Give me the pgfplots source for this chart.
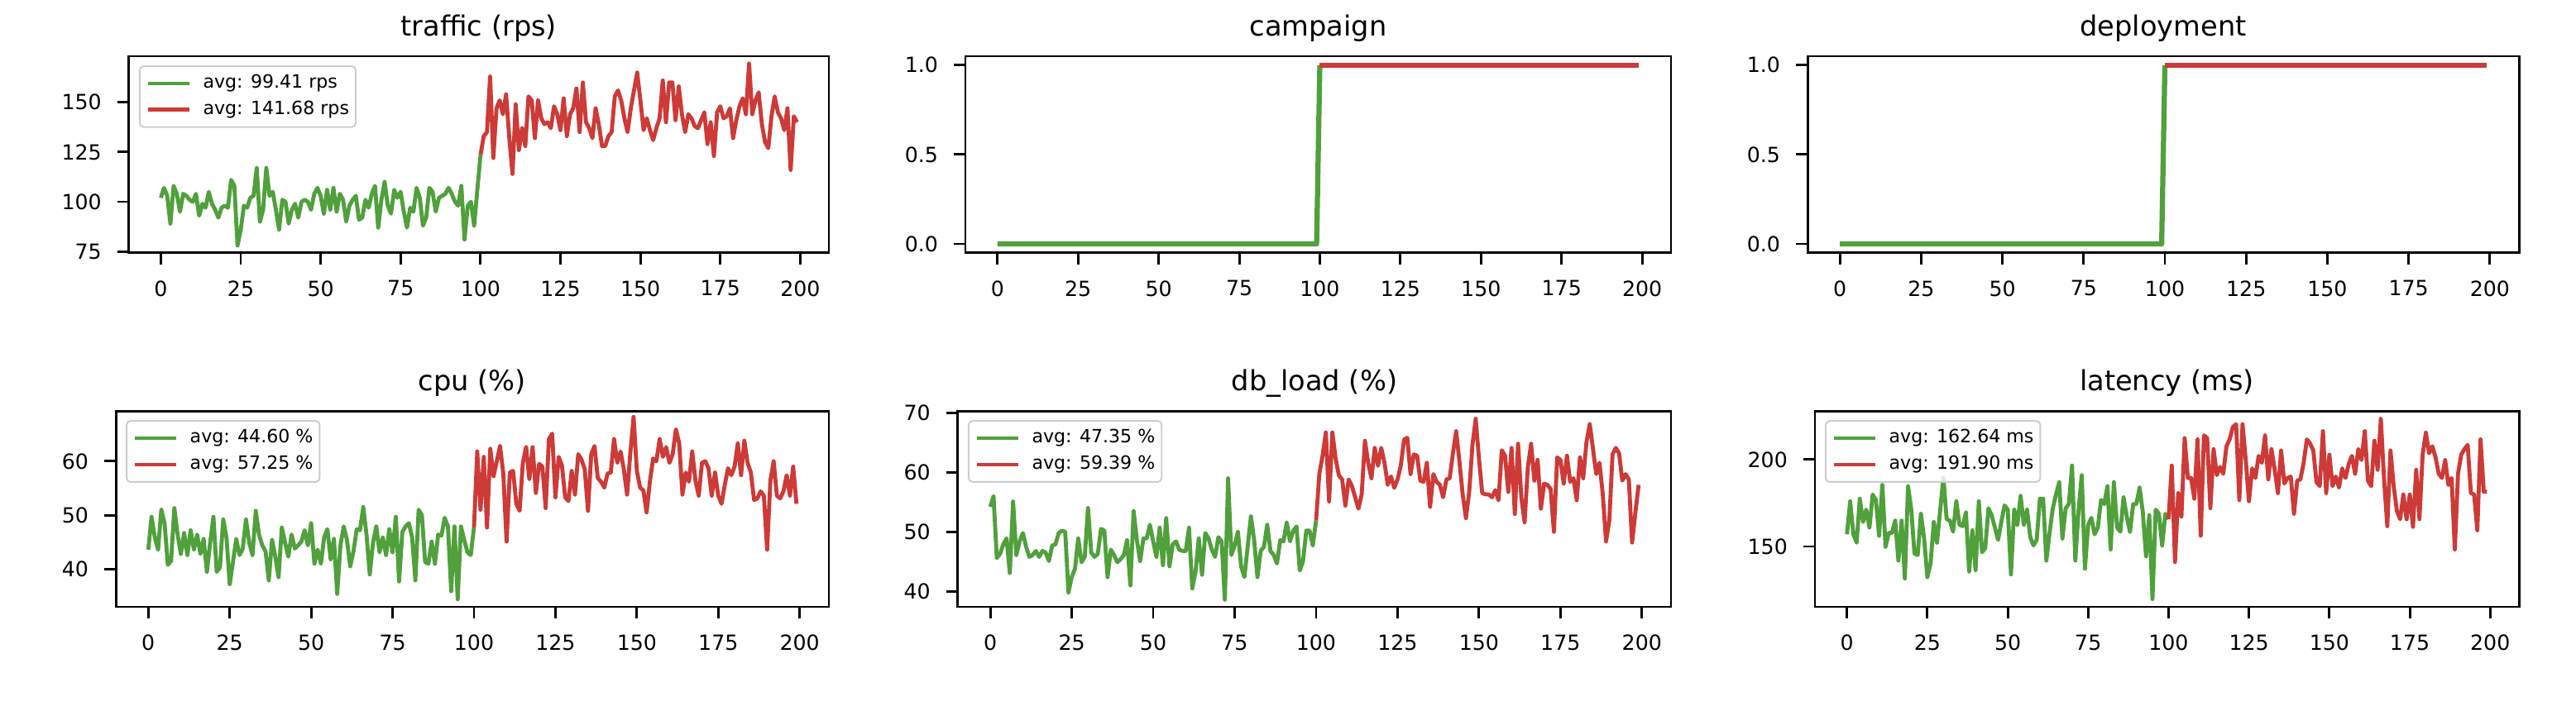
\documentclass[border=0pt]{standalone}
\usepackage{fontspec}
\setmainfont{DejaVu Sans}
\usepackage{pgfplots}
\pgfplotsset{compat=1.18}
\definecolor{cgreen}{RGB}{80,160,60}
\definecolor{cred}{RGB}{205,58,55}
\pgfplotsset{
  panel/.style={
    scale only axis, anchor=south west,
    xmin=-9.95, xmax=208.95,
    xtick={0,25,...,200},
    tick pos=left, tick align=outside,
    major tick length=5.8pt,
    tick style={black, line width=1.2pt},
    axis line style={line width=1.2pt},
    tick label style={font=\fontsize{10.5}{12}\selectfont},
    /pgf/number format/assume math mode=true,
    xticklabel style={anchor=north, inner sep=0pt, yshift=-8pt},
    yticklabel style={anchor=east, inner sep=0pt, xshift=-7.8pt},
    title style={font=\fontsize{14}{16}\selectfont, at={(0.5,1)}, anchor=base, yshift=4.2pt},
    legend style={at={(0,1)}, anchor=north west, xshift=5pt, yshift=-4.6pt,
      draw=black!20, line width=0.8pt, rounded corners=2pt,
      fill=white, fill opacity=0.8, text opacity=1, draw opacity=1,
      font=\fontsize{9.2}{11}\selectfont,
      inner xsep=3.3pt, inner ysep=4.1pt, row sep=4.1pt,
      nodes={inner sep=0pt, text height=7pt, text depth=2.2pt},
      /tikz/every odd column/.append style={column sep=5.8pt}},
    legend cell align=left,
    legend image code/.code={\draw[#1] (0pt,0pt) -- (20.8pt,0pt);},
  },
  gline/.style={cgreen, line width=2pt, line join=round},
  rline/.style={cred, line width=2pt, line join=round},
}
\begin{document}
\begin{tikzpicture}
\path[use as bounding box] (0,0) rectangle (1296pt,357.9pt);

% traffic
\begin{axis}[panel, at={(64.9pt,230.6pt)}, width=352.1pt, height=99pt,
  title={traffic (rps)}, ymin=74.3, ymax=173.2, ytick={75,100,125,150}]
\addplot[gline] coordinates {(0,102)(1,107)(2,103)(3,89)(4,108)(5,104)(6,95)(7,104)(8,103)(9,101)(10,100)(11,104)(12,93)(13,99)(14,97)(15,105)(16,99)(17,96)(18,92)(19,97)(20,98)(21,97)(22,111)(23,108)(24,78)(25,86)(26,98)(27,97)(28,102)(29,103)(30,117)(31,90)(32,96)(33,117)(34,103)(35,105)(36,96)(37,86)(38,101)(39,100)(40,89)(41,96)(42,99)(43,92)(44,100)(45,101)(46,100)(47,96)(48,104)(49,107)(50,103)(51,94)(52,106)(53,96)(54,107)(55,95)(56,104)(57,101)(58,90)(59,98)(60,101)(61,103)(62,91)(63,92)(64,101)(65,97)(66,104)(67,108)(68,87)(69,101)(70,110)(71,98)(72,94)(73,106)(74,102)(75,105)(76,95)(77,87)(78,97)(79,95)(80,107)(81,102)(82,88)(83,92)(84,107)(85,105)(86,95)(87,102)(88,103)(89,104)(90,107)(91,104)(92,100)(93,98)(94,108)(95,81)(96,98)(97,100)(98,88)(99,106)(100,123.5)};
\addlegendentry{avg: 99.41 rps}
\addplot[rline] coordinates {(100,123.5)(101,133)(102,135)(103,163)(104,122)(105,147)(106,151)(107,144)(108,154)(109,132)(110,114)(111,149)(112,126)(113,137)(114,128)(115,153)(116,151)(117,132)(118,151)(119,142)(120,139)(121,140)(122,137)(123,148)(124,144)(125,136)(126,152)(127,133)(128,144)(129,147)(130,157)(131,135)(132,160)(133,140)(134,137)(135,132)(136,147)(137,139)(138,128)(139,128)(140,133)(141,135)(142,153)(143,156)(144,151)(145,142)(146,135)(147,147)(148,156)(149,165)(150,151)(151,136)(152,142)(153,136)(154,131)(155,137)(156,142)(157,161)(158,140)(159,160)(160,160)(161,141)(162,158)(163,144)(164,135)(165,144)(166,142)(167,138)(168,137)(169,141)(170,145)(171,129)(172,140)(173,123)(174,145)(175,148)(176,142)(177,143)(178,147)(179,132)(180,141)(181,148)(182,152)(183,144)(184,169.5)(185,144)(186,151)(187,155)(188,139)(189,130)(190,127)(191,143)(192,153)(193,145)(194,142)(195,136)(196,147)(197,116)(198,143)(199,140)};
\addlegendentry{avg: 141.68 rps}
\end{axis}

% campaign
\begin{axis}[panel, at={(485.7pt,230.6pt)}, width=355pt, height=99pt,
  title={campaign}, ymin=-0.05, ymax=1.05, ytick={0,0.5,1},
  yticklabel style={/pgf/number format/.cd, fixed, fixed zerofill, precision=1}]
\addplot[gline, line width=2.6pt] coordinates {(0,0)(99,0)(100,1)};
\addplot[rline, line width=2.6pt] coordinates {(100,1)(199,1)};
\end{axis}

% deployment
\begin{axis}[panel, at={(909.4pt,230.6pt)}, width=357.9pt, height=99pt,
  title={deployment}, ymin=-0.05, ymax=1.05, ytick={0,0.5,1},
  yticklabel style={/pgf/number format/.cd, fixed, fixed zerofill, precision=1}]
\addplot[gline, line width=2.6pt] coordinates {(0,0)(99,0)(100,1)};
\addplot[rline, line width=2.6pt] coordinates {(100,1)(199,1)};
\end{axis}

% cpu
\begin{axis}[panel, at={(58.3pt,52.4pt)}, width=358.7pt, height=98.6pt,
  title={cpu (\%)}, ymin=33, ymax=69.3, ytick={40,50,60}]
\addplot[gline] coordinates {(0,43.6)(1,49.7)(2,45.9)(3,43.6)(4,51)(5,48.5)(6,40.8)(7,41.5)(8,51.3)(9,46.4)(10,42.8)(11,46.7)(12,42.6)(13,47.2)(14,43.6)(15,46.4)(16,42.8)(17,45.6)(18,39.5)(19,44.9)(20,49.7)(21,39.5)(22,40.3)(23,49.2)(24,45.9)(25,37.2)(26,41.3)(27,45.6)(28,42.6)(29,43.8)(30,49.2)(31,44.9)(32,42.6)(33,50.8)(34,46.4)(35,44.4)(36,43.3)(37,37.9)(38,45.4)(39,42.3)(40,38.5)(41,47.7)(42,44.9)(43,42.3)(44,46.4)(45,43.8)(46,44.4)(47,45.1)(48,47.2)(49,44.4)(50,48.5)(51,41)(52,43.6)(53,41)(54,45.9)(55,47.4)(56,41.8)(57,45.6)(58,35.4)(59,44.4)(60,47.9)(61,45.4)(62,40.5)(63,43.3)(64,47.4)(65,47.2)(66,51.5)(67,46.4)(68,39)(69,44.9)(70,47.9)(71,43.1)(72,45.9)(73,42.6)(74,47.4)(75,43.1)(76,49.7)(77,37.7)(78,46.9)(79,47.9)(80,48.5)(81,45.9)(82,37.9)(83,51)(84,50)(85,41.3)(86,41)(87,45.1)(88,41)(89,46.4)(90,46.2)(91,49.5)(92,47.9)(93,35.9)(94,47.9)(95,34.4)(96,47.9)(97,45.4)(98,43.1)(99,42.6)(100,47.7)};
\addlegendentry{avg: 44.60 \%}
\addplot[rline] coordinates {(100,47.7)(101,61.8)(102,51)(103,60.8)(104,47.7)(105,62.3)(106,57.2)(107,60)(108,62.8)(109,57.7)(110,45.1)(111,57.9)(112,58.2)(113,52.1)(114,50.8)(115,59.7)(116,62.6)(117,56.7)(118,62.6)(119,54.1)(120,59.5)(121,59)(122,51.3)(123,64.1)(124,65.1)(125,53.3)(126,60.8)(127,59.2)(128,53.3)(129,52.6)(130,58.2)(131,53.8)(132,61.3)(133,60.3)(134,58.5)(135,50.8)(136,61.3)(137,62.8)(138,56.9)(139,56.2)(140,55.1)(141,57.7)(142,57.9)(143,64.1)(144,59.7)(145,61.8)(146,58.5)(147,53.8)(148,61.5)(149,68.2)(150,58.2)(151,55.1)(152,54.6)(153,50.5)(154,56.2)(155,60.5)(156,60)(157,64.1)(158,60.8)(159,62.6)(160,59.7)(161,61.3)(162,65.9)(163,63.3)(164,53.8)(165,57.9)(166,56.2)(167,61.8)(168,56.4)(169,53.6)(170,59.7)(171,60)(172,58.7)(173,53.6)(174,57.9)(175,53.6)(176,52.1)(177,55.6)(178,58.7)(179,57.4)(180,59)(181,63.3)(182,57.4)(183,63.8)(184,59.7)(185,57.9)(186,52.8)(187,53.1)(188,54.4)(189,53.6)(190,43.6)(191,56.4)(192,60)(193,53.6)(194,53.1)(195,54.4)(196,57.4)(197,53.6)(198,59)(199,52.1)};
\addlegendentry{avg: 57.25 \%}
\end{axis}

% db_load
\begin{axis}[panel, at={(481.9pt,52.4pt)}, width=358.8pt, height=98.6pt,
  title={db\_load (\%)}, ymin=37.4, ymax=70.3, ytick={40,50,60,70}]
\addplot[gline] coordinates {(0,54.2)(1,56)(2,45.6)(3,46.3)(4,47.9)(5,48.9)(6,43.1)(7,55.1)(8,46.1)(9,48.4)(10,49.8)(11,47.5)(12,45.8)(13,46.1)(14,46.8)(15,45.8)(16,46.8)(17,46.5)(18,45.1)(19,47.7)(20,47.9)(21,49.8)(22,50.2)(23,50)(24,39.8)(25,42.4)(26,43.8)(27,48.9)(28,44.9)(29,45.8)(30,54)(31,46.5)(32,45.8)(33,46.3)(34,50.5)(35,50.2)(36,42.4)(37,47)(38,46.1)(39,44.9)(40,45.4)(41,46.1)(42,48.6)(43,41)(44,53.5)(45,48.6)(46,45.1)(47,48.9)(48,48.9)(49,51.2)(50,48.4)(51,45.8)(52,50.7)(53,44.4)(54,52.3)(55,44.2)(56,47.9)(57,48.4)(58,47)(59,46.8)(60,46.8)(61,50.7)(62,40.5)(63,43.3)(64,48.9)(65,42.8)(66,49.8)(67,48.9)(68,47)(69,45.8)(70,49.1)(71,48.4)(72,38.6)(73,59)(74,46.1)(75,47.7)(76,50)(77,44.2)(78,42.4)(79,47.5)(80,52.6)(81,48.6)(82,42.4)(83,46.8)(84,47.5)(85,51.2)(86,46.8)(87,46.1)(88,44.7)(89,48.6)(90,48.4)(91,51.6)(92,48.4)(93,50.2)(94,50.9)(95,43.5)(96,45.1)(97,50.2)(98,50.2)(99,47.7)(100,51.9)};
\addlegendentry{avg: 47.35 \%}
\addplot[rline] coordinates {(100,51.9)(101,59.7)(102,62.8)(103,66.7)(104,55.1)(105,66.7)(106,62.3)(107,59.5)(108,58.8)(109,54.4)(110,58.8)(111,57.7)(112,55.8)(113,53.9)(114,56.3)(115,65.3)(116,61.6)(117,59)(118,64.1)(119,61.1)(120,64.1)(121,61.6)(122,57.9)(123,59.3)(124,57.4)(125,58.8)(126,61.1)(127,65.5)(128,65.8)(129,59.7)(130,63)(131,62.8)(132,58.6)(133,58.4)(134,61.6)(135,54.2)(136,59.7)(137,58.4)(138,57.9)(139,55.8)(140,58.8)(141,59)(142,63.2)(143,66.9)(144,61.8)(145,56.3)(146,52.3)(147,56.7)(148,64.6)(149,69)(150,62.3)(151,56.5)(152,56.3)(153,56.3)(154,55.8)(155,57)(156,55.3)(157,63.7)(158,62.8)(159,56.7)(160,64.1)(161,53)(162,64.8)(163,55.8)(164,51.6)(165,60.9)(166,64.8)(167,58.6)(168,62.1)(169,53.9)(170,58.1)(171,57.9)(172,57.2)(173,50)(174,62.5)(175,62.1)(176,58.1)(177,62.8)(178,58.4)(179,59)(180,55.3)(181,62.5)(182,59)(183,65.1)(184,68.1)(185,63.9)(186,59.7)(187,61.6)(188,56.3)(189,48.4)(190,51.9)(191,63)(192,64.1)(193,63.2)(194,58.6)(195,59.7)(196,58.8)(197,48.2)(198,53.2)(199,57.9)};
\addlegendentry{avg: 59.39 \%}
\end{axis}

% latency
\begin{axis}[panel, at={(913.1pt,52.4pt)}, width=354.2pt, height=98.6pt,
  title={latency (ms)}, ymin=115.3, ymax=227.9, ytick={150,200}]
\addplot[gline] coordinates {(0,157)(1,176)(2,157)(3,152.2)(4,177.5)(5,164.1)(6,171.2)(7,160.9)(8,179.9)(9,176.7)(10,156.2)(11,185.4)(12,149.8)(13,157.8)(14,157.8)(15,164.9)(16,141.9)(17,164.9)(18,131.6)(19,184.7)(20,171.2)(21,145.9)(22,145.1)(23,168.8)(24,154.6)(25,132.4)(26,140.3)(27,164.1)(28,152.2)(29,171.2)(30,189.4)(31,165.7)(32,164.9)(33,158.5)(34,176)(35,162.5)(36,161.7)(37,169.6)(38,135.6)(39,159.3)(40,136.4)(41,176)(42,146.7)(43,149.1)(44,172)(45,168)(46,160.9)(47,153.8)(48,164.1)(49,173.6)(50,171.2)(51,134)(52,171.2)(53,162.5)(54,179.1)(55,162.5)(56,171.2)(57,155.4)(58,150.6)(59,153.8)(60,177.5)(61,177.5)(62,141.9)(63,157.8)(64,172)(65,179.9)(66,187)(67,154.6)(68,172)(69,174.4)(70,196.5)(71,141.9)(72,170.4)(73,191)(74,137.2)(75,162.5)(76,166.5)(77,157)(78,160.9)(79,176.7)(80,174.4)(81,184.7)(82,148.3)(83,187)(84,160.9)(85,158.5)(86,178.3)(87,167.2)(88,158.5)(89,174.4)(90,174.4)(91,183.9)(92,169.6)(93,144.3)(94,168)(95,119.8)(96,171.2)(97,168.8)(98,150.6)(99,168.8)(100,165.7)};
\addlegendentry{avg: 162.64 ms}
\addplot[rline] coordinates {(100,165.7)(101,196.5)(102,141.1)(103,180.7)(104,167.2)(105,212.3)(106,189.4)(107,189.4)(108,177.5)(109,211.6)(110,156.2)(111,213.9)(112,212.3)(113,172)(114,206)(115,191)(116,195.7)(117,191.8)(118,207.6)(119,211.6)(120,218.7)(121,220.3)(122,176.7)(123,220.3)(124,199.7)(125,176)(126,194.9)(127,189.4)(128,202.1)(129,198.1)(130,213.9)(131,188.6)(132,206)(133,194.1)(134,180.7)(135,205.2)(136,186.2)(137,189.4)(138,190.2)(139,168.8)(140,187.8)(141,188.6)(142,198.1)(143,211.6)(144,209.2)(145,205.2)(146,187)(147,184.7)(148,216.3)(149,180.7)(150,202.8)(151,184.7)(152,190.2)(153,183.9)(154,194.9)(155,189.4)(156,197.3)(157,202.1)(158,191.8)(159,206)(160,199.7)(161,216.3)(162,187.8)(163,184.7)(164,210.8)(165,194.1)(166,223.4)(167,188.6)(168,161.7)(169,205.2)(170,184.7)(171,170.4)(172,165.7)(173,179.9)(174,165.7)(175,179.9)(176,161.3)(177,194.1)(178,165.7)(179,202.8)(180,215.5)(181,203.6)(182,207.6)(183,201.3)(184,191.8)(185,189.4)(186,199.7)(187,185.4)(188,189.4)(189,148.3)(190,191.8)(191,202.8)(192,206)(193,208.4)(194,180.7)(195,179.9)(196,159.3)(197,211.6)(198,181.5)(199,181.5)};
\addlegendentry{avg: 191.90 ms}
\end{axis}
\end{tikzpicture}
\end{document}
